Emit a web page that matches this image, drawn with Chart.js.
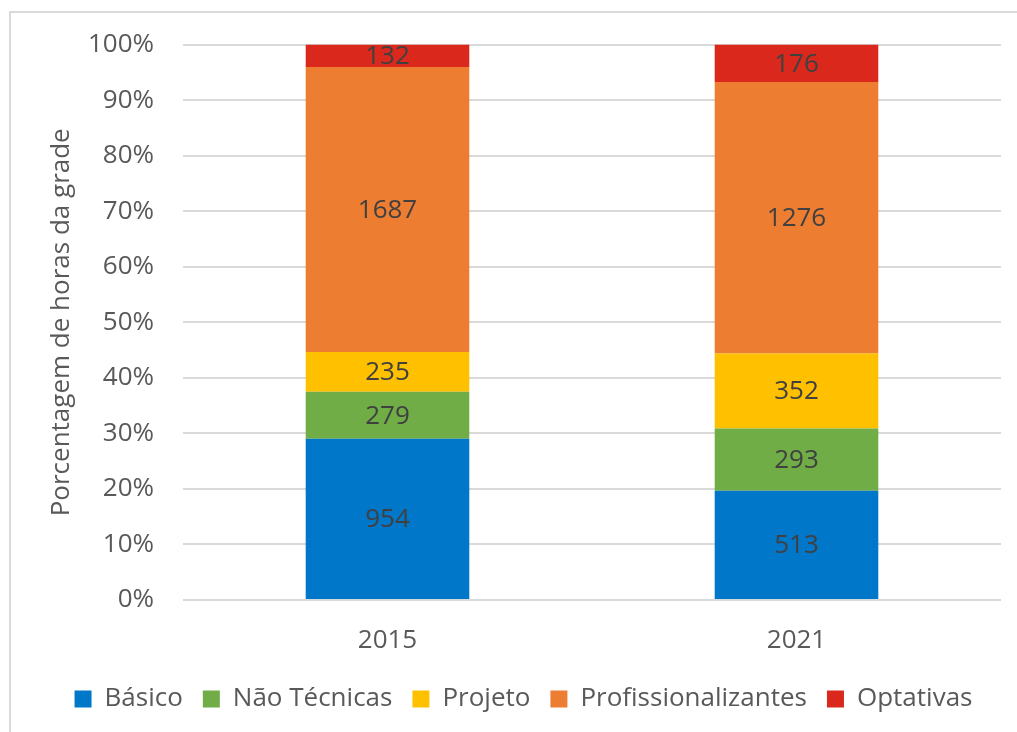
<!DOCTYPE html>
<html>
<head>
<meta charset="utf-8">
<script src="https://cdn.jsdelivr.net/npm/chart.js@4"></script>
<style>
  html, body { margin: 0; padding: 0; background: #ffffff; }
  #wrap { width: 1017px; height: 732px; position: relative; }
</style>
</head>
<body>
<div id="wrap"><canvas id="c" width="1017" height="732"></canvas></div>
<script>
// Hours of the curriculum per area
const categories = ['2015', '2021'];
const basico = [954, 513];
const naoTecnicas = [279, 293];
const projeto = [235, 352];
const profissionalizantes = [1687, 1276];
const optativas = [132, 176];
const yTicks = [0, 10, 20, 30, 40, 50, 60, 70, 80, 90, 100];

const seriesNames = ['Básico', 'Não Técnicas', 'Projeto', 'Profissionalizantes', 'Optativas'];
const seriesValues = [basico, naoTecnicas, projeto, profissionalizantes, optativas];
const seriesColors = ['#0077C8', '#70AD47', '#FFC000', '#ED7D31', '#DA291C'];

// total hours per year, used to express each area as a share of 100%
const totals = categories.map((_, i) => seriesValues.reduce((s, arr) => s + arr[i], 0));

const FONT = "'Open Sans', 'Noto Sans', sans-serif";
const FS = 26;
const PAD_LEFT = 46;

const datasets = seriesNames.map((name, k) => ({
  label: name,
  data: seriesValues[k].map((v, i) => v / totals[i] * 100),
  raw: seriesValues[k],
  backgroundColor: seriesColors[k],
  borderWidth: 0,
  categoryPercentage: 0.5,
  barPercentage: 0.8
}));

// light frame around the chart
const framePlugin = {
  id: 'frame',
  beforeDraw(chart) {
    const ctx = chart.ctx;
    ctx.save();
    ctx.fillStyle = '#ffffff';
    ctx.fillRect(0, 0, chart.width, chart.height);
    ctx.strokeStyle = '#D9D9D9';
    ctx.lineWidth = 2;
    ctx.strokeRect(10, 12, 1100, 900);
    ctx.restore();
  }
};

// hour counts written in the middle of each segment
const valueLabels = {
  id: 'valueLabels',
  afterDatasetsDraw(chart) {
    const ctx = chart.ctx;
    ctx.save();
    ctx.font = FS + "px " + FONT;
    ctx.fillStyle = '#404040';
    ctx.textAlign = 'center';
    ctx.textBaseline = 'middle';
    chart.data.datasets.forEach((ds, di) => {
      const meta = chart.getDatasetMeta(di);
      meta.data.forEach((bar, i) => {
        const yMid = (bar.y + bar.base) / 2;
        ctx.fillText(String(ds.raw[i]), bar.x, yMid + 1);
      });
    });
    ctx.restore();
  }
};

new Chart(document.getElementById('c'), {
  type: 'bar',
  data: { labels: categories, datasets },
  options: {
    responsive: false,
    animation: false,
    layout: { padding: { left: PAD_LEFT, right: 16, top: 28, bottom: 10 } },
    plugins: {
      legend: {
        position: 'bottom',
        labels: {
          font: { family: FONT, size: FS },
          color: '#595959',
          boxWidth: 17,
          boxHeight: 17,
          padding: 20
        }
      },
      tooltip: { enabled: false }
    },
    scales: {
      x: {
        stacked: true,
        grid: { display: false },
        border: { display: false },
        ticks: { font: { family: FONT, size: FS }, color: '#595959', padding: 17 },
        afterFit(scale) { scale.height = 66; }
      },
      y: {
        stacked: true,
        min: 0,
        max: 100,
        afterBuildTicks(scale) { scale.ticks = yTicks.map(v => ({ value: v })); },
        ticks: {
          font: { family: FONT, size: FS },
          color: '#595959',
          padding: 29,
          callback: v => v + '%'
        },
        grid: { color: '#D9D9D9', lineWidth: 2, drawTicks: false },
        border: { display: false },
        title: {
          display: true,
          text: 'Porcentagem de horas da grade',
          font: { family: FONT, size: FS },
          color: '#595959',
          padding: { top: 0, bottom: 0 }
        },
        afterFit(scale) { scale.width = 183 - PAD_LEFT; }
      }
    }
  },
  plugins: [framePlugin, valueLabels]
});
</script>
</body>
</html>
